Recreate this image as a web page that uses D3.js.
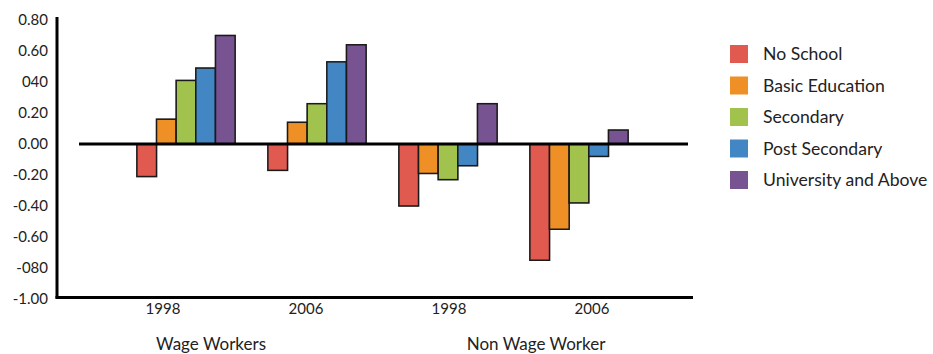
<!DOCTYPE html>
<html lang="en">
<head>
<meta charset="UTF-8">
<title>Wage chart</title>
<script src="https://cdn.jsdelivr.net/npm/d3@7"></script>
<style>
  body { margin: 0; background: #fff; }
  text { font-family: Lato, "Open Sans", sans-serif; fill: #222; }
</style>
</head>
<body>
<div id="chart"></div>
<script>
// data
const groups = ["Wage Workers", "Non Wage Worker"];
const years = ["1998", "2006", "1998", "2006"];
const series = ["No School", "Basic Education", "Secondary", "Post Secondary", "University and Above"];
const noSchool   = [-0.21, -0.17, -0.40, -0.75];
const basicEdu   = [0.16, 0.14, -0.19, -0.55];
const secondary  = [0.41, 0.26, -0.23, -0.38];
const postSec    = [0.49, 0.53, -0.14, -0.08];
const university = [0.70, 0.64, 0.26, 0.09];
const tickValues = [0.8, 0.6, 0.4, 0.2, 0, -0.2, -0.4, -0.6, -0.8, -1.0];
const tickLabels = ["0.80", "0.60", "040", "0.20", "0.00", "-0.20", "-0.40", "-0.60", "-080", "-1.00"];
const colors = ["#e15a50", "#ef9027", "#a1c34d", "#4287c4", "#775391"];

const values = [noSchool, basicEdu, secondary, postSec, university];

const width = 933, height = 354;
const svg = d3.select("#chart").append("svg")
  .attr("width", width)
  .attr("height", height);

const y = d3.scaleLinear().domain([-1, 0.8]).range([299, 20]);

// bars and the year labels sit on slightly different spacings in the original
const xBars = d3.scaleBand().domain(d3.range(4)).range([120.5, 644.5]).paddingInner(0.25).paddingOuter(0.125);
const xLabels = d3.scaleBand().domain(d3.range(4)).range([91.5, 663.5]);
const xSeries = d3.scaleBand().domain(series).range([0, xBars.bandwidth()]);

// y axis
const yAxis = d3.axisLeft(y)
  .tickValues(tickValues)
  .tickFormat((d, i) => tickLabels[i])
  .tickSize(0)
  .tickPadding(9);
const gy = svg.append("g").attr("transform", "translate(57,0)").call(yAxis);
gy.select(".domain").remove();
gy.selectAll("text").style("font-size", "15px").attr("fill", "#222");
svg.append("line")
  .attr("x1", 57).attr("x2", 57)
  .attr("y1", 17).attr("y2", 298.5)
  .attr("stroke", "#000").attr("stroke-width", 3);

// bottom axis
svg.append("line")
  .attr("x1", 55.5).attr("x2", 693)
  .attr("y1", 297.5).attr("y2", 297.5)
  .attr("stroke", "#000").attr("stroke-width", 3);
const xAxis = d3.axisBottom(xLabels).tickFormat(i => years[i]).tickSize(0).tickPadding(6);
const gx = svg.append("g").attr("transform", "translate(0,297)").call(xAxis);
gx.select(".domain").remove();
gx.selectAll("text").style("font-size", "15px");

// group labels
svg.append("g").selectAll("text")
  .data(groups)
  .join("text")
  .attr("x", (d, i) => i === 0 ? 211 : 536)
  .attr("y", 350)
  .attr("text-anchor", "middle")
  .style("font-size", "17px")
  .text(d => d);

// bars
const cats = svg.append("g").selectAll("g")
  .data(d3.range(4))
  .join("g")
  .attr("transform", i => "translate(" + xBars(i) + ",0)");

cats.selectAll("rect")
  .data(i => series.map((s, k) => ({s: s, k: k, v: values[k][i]})))
  .join("rect")
  .attr("x", d => xSeries(d.s))
  .attr("y", d => d.v > 0 ? y(d.v) : y(0))
  .attr("width", xSeries.bandwidth())
  .attr("height", d => Math.abs(y(d.v) - y(0)))
  .attr("fill", d => colors[d.k])
  .attr("stroke", "#1a1a1a")
  .attr("stroke-width", 1.5)
  .style("filter", "drop-shadow(0.5px 0.5px 0.6px rgba(0,0,0,0.35))");

// zero line
svg.append("line")
  .attr("x1", 79).attr("x2", 688)
  .attr("y1", y(0)).attr("y2", y(0))
  .attr("stroke", "#000").attr("stroke-width", 3);

// legend
const legend = svg.append("g").attr("transform", "translate(730,0)");
const legendY = d3.scalePoint().domain(series).range([54, 180]);
const items = legend.selectAll("g")
  .data(series)
  .join("g")
  .attr("transform", d => "translate(0," + legendY(d) + ")");
items.append("rect")
  .attr("x", 0).attr("y", -9)
  .attr("width", 18).attr("height", 18)
  .attr("fill", (d, i) => colors[i]);
items.append("text")
  .attr("x", 33).attr("y", 0)
  .attr("dy", "0.36em")
  .style("font-size", "17.6px")
  .text(d => d);
</script>
</body>
</html>
